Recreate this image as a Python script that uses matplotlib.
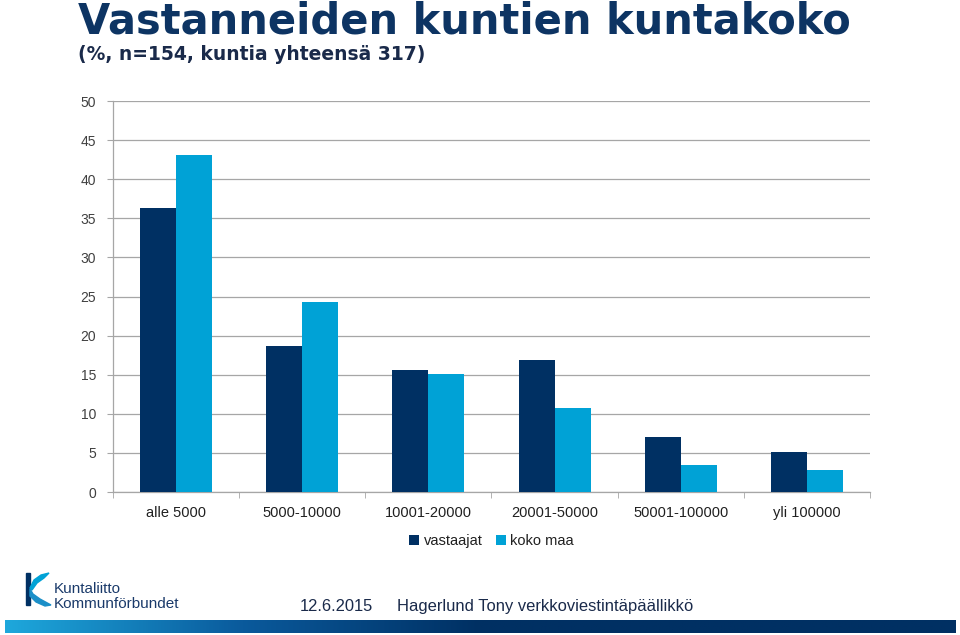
import matplotlib
matplotlib.use("Agg")
import matplotlib.pyplot as plt
import numpy as np
from matplotlib.patches import Rectangle, Polygon
from matplotlib.colors import LinearSegmentedColormap

categories = ["alle 5000", "5000-10000", "10001-20000", "20001-50000", "50001-100000", "yli 100000"]
vastaajat = [36.3, 18.7, 15.6, 16.9, 7.0, 5.1]
koko_maa = [43.1, 24.3, 15.1, 10.7, 3.5, 2.8]
series_names = ["vastaajat", "koko maa"]
y_ticks = [0, 5, 10, 15, 20, 25, 30, 35, 40, 45, 50]

NAVY = "#003063"
CYAN = "#00A2D6"
TXT = "#404040"

plt.rcParams['font.family'] = ['Liberation Sans', 'DejaVu Sans']

fig = plt.figure(figsize=(9.6, 6.35), dpi=100)
ax = fig.add_axes([113/960, 1-492/635, (870-113)/960, (492-101)/635])

x = np.arange(len(categories))
w = 0.285
ax.bar(x - w/2, vastaajat, w, color=NAVY, label=series_names[0], zorder=3)
ax.bar(x + w/2, koko_maa, w, color=CYAN, label=series_names[1], zorder=3)

ax.set_xlim(-0.5, len(categories) - 0.5)
ax.set_ylim(0, 50)
ax.set_yticks(y_ticks)
ax.set_yticklabels([str(t) for t in y_ticks], fontsize=10, color=TXT)
ax.yaxis.grid(True, color="#a6a6a6", linewidth=0.9, zorder=0)
ax.tick_params(axis='y', length=4, color="#a6a6a6", pad=8)

ax.set_xticks(x)
ax.set_xticklabels(categories, fontsize=10.5, color="#202020")
ax.tick_params(axis='x', length=0, pad=10)
ax.set_xticks(np.arange(-0.5, len(categories)), minor=True)
ax.tick_params(axis='x', which='minor', length=4, color="#a6a6a6")

for s in ["top", "right"]:
    ax.spines[s].set_visible(False)
for s in ["left", "bottom"]:
    ax.spines[s].set_color("#a6a6a6")
    ax.spines[s].set_linewidth(0.9)

leg = ax.legend(loc="upper center", bbox_to_anchor=(0.5, -0.075), ncol=2, frameon=False,
                fontsize=10.5, handlelength=0.7, handleheight=0.7, handletextpad=0.3,
                columnspacing=0.9)
for t in leg.get_texts():
    t.set_color("#202020")

fig.text(78/960, 1-33/635, "Vastanneiden kuntien kuntakoko", fontsize=30, fontweight="bold",
         color="#0D3463", va="baseline", ha="left", family=['DejaVu Sans'])
fig.text(78/960, 1-60/635, "(%, n=154, kuntia yhteensä 317)", fontsize=13.5, fontweight="bold",
         color="#1a2a4a", va="baseline", ha="left", family=['DejaVu Sans'])

fig.text(300/960, 1-611/635, "12.6.2015", fontsize=11.9,
         color="#1a2a4a", va="baseline", ha="left")
fig.text(397/960, 1-611/635, "Hagerlund Tony verkkoviestintäpäällikkö", fontsize=11.9,
         color="#1a2a4a", va="baseline", ha="left")

# logo (decorative)
def px(pts):
    return [(a/960, 1-b/635) for a, b in pts]

fig.patches.append(Rectangle((26/960, 1-605/635), 4.5/960, 32/635, transform=fig.transFigure,
                             color=NAVY, zorder=5))
fig.patches.append(Polygon(px([(49, 573), (41, 575), (34, 580), (30, 588), (32, 590), (37, 583), (44, 578)]),
                           closed=True, transform=fig.transFigure, color=CYAN, zorder=6))
fig.patches.append(Polygon(px([(30, 589), (33, 594), (40, 599), (51, 605), (45, 606), (36, 602), (30, 596)]),
                           closed=True, transform=fig.transFigure, color="#1b8fc8", zorder=6))
fig.text(54/960, 1-589/635, "Kuntaliitto", fontsize=11, color="#1a3a6a", va="center", ha="left")
fig.text(54/960, 1-604/635, "Kommunförbundet", fontsize=11, color="#1a3a6a", va="center", ha="left")

# bottom gradient stripe
grad = np.linspace(0, 1, 512)
grad = np.clip(grad * 2.0, 0, 1)
cmap = LinearSegmentedColormap.from_list("stripe", ["#1ea8dc", "#0a5a9c", NAVY])
sax = fig.add_axes([5/960, 1-633/635, 950/960, 13/635])
sax.imshow(grad[None, :], aspect="auto", cmap=cmap, extent=(0, 1, 0, 1))
sax.axis("off")

fig.savefig("out.png", dpi=100)
